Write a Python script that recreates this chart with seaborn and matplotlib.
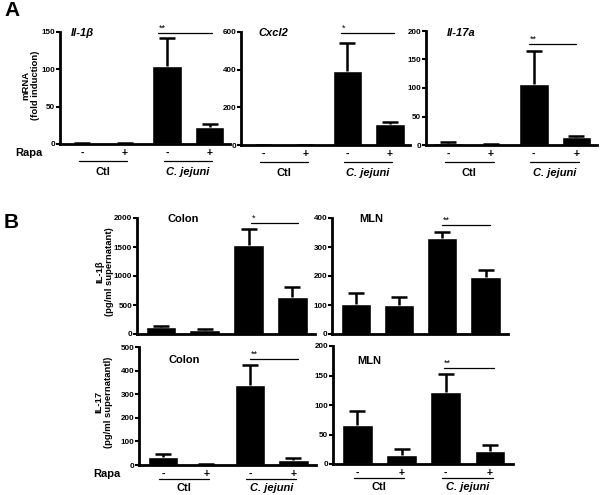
import numpy as np
import pandas as pd
import matplotlib
matplotlib.use("Agg")
import matplotlib.pyplot as plt
import seaborn as sns
from matplotlib.transforms import blended_transform_factory

sns.set_theme(style="ticks")
plt.rcParams['font.family'] = ['Liberation Sans', 'DejaVu Sans']
plt.rcParams['font.weight'] = 'bold'
plt.rcParams['text.color'] = 'black'
plt.rcParams['axes.labelcolor'] = 'black'
plt.rcParams['xtick.color'] = 'black'
plt.rcParams['ytick.color'] = 'black'
plt.rcParams['axes.edgecolor'] = 'black'

# ---------------- data ----------------
conditions = ["Ctl -", "Ctl +", "C. jejuni -", "C. jejuni +"]
rapa_labels = ["-", "+", "-", "+"]
group_labels = ["Ctl", "C. jejuni"]

il1b_mrna = [1.5, 1.0, 105, 23]
il1b_mrna_err = [0.5, 0.3, 37, 4]
cxcl2_mrna = [1.5, 1.0, 392, 111]
cxcl2_mrna_err = [0.5, 0.5, 150, 10]
il17a_mrna = [4, 2, 107, 14]
il17a_mrna_err = [1, 0.5, 58, 2]

colon_il1b = [127, 70, 1530, 640]
colon_il1b_err = [15, 12, 280, 175]
mln_il1b = [104, 101, 330, 196]
mln_il1b_err = [38, 28, 23, 23]
colon_il17 = [32, 3, 340, 22]
colon_il17_err = [13, 1, 83, 6]
mln_il17 = [66, 16, 122, 22]
mln_il17_err = [24, 10, 30, 10]

W, H = 600, 495
fig = plt.figure(figsize=(W / 100, H / 100), dpi=100)


def fx(x):
    return x / W


def fy(y):
    return 1 - y / H


def panel(box, vals, errs, ymax, step, xlim, title, title_xy, sig, sig_y,
          sig_x, bottom_row, rapa=False, italic_title=False):
    l, r, t, b = box
    ax = fig.add_axes([fx(l), fy(b), (r - l) / W, (b - t) / H])
    df = pd.DataFrame({"cond": conditions, "val": vals})
    sns.barplot(data=df, x="cond", y="val", order=conditions, color="black",
                saturation=1, width=0.7, errorbar=None, ax=ax)
    eb = ax.errorbar(range(4), vals, yerr=[np.zeros(4), errs], fmt="none",
                     ecolor="black", elinewidth=1.8, capsize=6, capthick=1.8)
    caps = eb[1]
    if len(caps) == 2:
        caps[0].set_visible(False)
    ax.set_xlim(*xlim)
    ax.set_ylim(0, ymax)
    ticks = np.arange(0, ymax + step / 2, step)
    ax.set_yticks(ticks)
    ax.set_yticklabels([f"{int(v)}" for v in ticks], fontsize=5.8,
                       fontweight="bold")
    ax.tick_params(axis="y", length=3, width=1.5, pad=0.5, color="black")
    ax.tick_params(axis="x", length=0, pad=3)
    ax.set_xlabel("")
    ax.set_ylabel("")
    for s in ["top", "right"]:
        ax.spines[s].set_visible(False)
    for s in ["left", "bottom"]:
        ax.spines[s].set_linewidth(2)
        ax.spines[s].set_color("black")
    ax.patch.set_alpha(0)
    hpx = b - t
    if bottom_row:
        ax.set_xticks(range(4))
        ax.set_xticklabels(rapa_labels, fontsize=7.5, fontweight="bold")
        tr = blended_transform_factory(ax.transData, ax.transAxes)
        yl = -(17 if t < 200 else 14) / hpx
        ygl = -(28 if t < 200 else 23) / hpx
        for gi, g in enumerate(group_labels):
            x0 = gi * 2 - 0.08
            x1 = gi * 2 + 1 + 0.06
            ax.plot([x0, x1], [yl, yl], transform=tr, color="black", lw=0.9,
                    clip_on=False)
            ax.text((x0 + x1) / 2, ygl, g, transform=tr, ha="center",
                    va="center", fontsize=8, fontweight="bold",
                    style="italic" if gi == 1 else "normal")
        if rapa:
            fig.text(fx(l - 18), fy(b + 9), "Rapa", ha="right", va="center",
                     fontsize=8, fontweight="bold")
    else:
        ax.set_xticks([])
    fig.text(fx(title_xy[0]), fy(title_xy[1]), title, ha="left", va="center",
             fontsize=8, fontweight="bold",
             style="italic" if italic_title else "normal")
    ax.plot([sig_x[0], sig_x[1]], [sig_y, sig_y], color="black", lw=0.9,
            clip_on=False)
    ax.annotate(sig, xy=(sig_x[0], sig_y), xytext=(0.5, 0.3),
                textcoords="offset points", ha="left", va="bottom",
                fontsize=6.5, fontweight="normal", annotation_clip=False)
    return ax


xa = (-0.52, 3.48)
xb = (-0.55, 3.52)

panel((60, 230, 32, 144), il1b_mrna, il1b_mrna_err, 150, 50, xa,
      "Il-1β", (71, 33), "**", 148, (1.78, 3.05), True, rapa=True,
      italic_title=True)
panel((241, 410, 32, 145), cxcl2_mrna, cxcl2_mrna_err, 600, 200, xa,
      "Cxcl2", (258, 33), "*", 593, (1.85, 3.1), True, italic_title=True)
panel((426, 597, 31, 145), il17a_mrna, il17a_mrna_err, 200, 50, xa,
      "Il-17a", (447, 33), "**", 177, (1.9, 3.0), True, italic_title=True)

panel((137, 315, 218, 334), colon_il1b, colon_il1b_err, 2000, 500, xb,
      "Colon", (167, 219), "*", 1914, (2.05, 3.14), False)
panel((332, 508, 218, 334), mln_il1b, mln_il1b_err, 400, 100, xb,
      "MLN", (359, 219), "**", 376, (2.0, 3.1), False)
panel((139, 316, 347, 465), colon_il17, colon_il17_err, 500, 100, xb,
      "Colon", (168, 360), "**", 449, (2.0, 3.1), True, rapa=True)
panel((333, 513, 346, 464), mln_il17, mln_il17_err, 200, 50, xb,
      "MLN", (357, 361), "**", 163, (1.95, 3.1), True)

# y labels
fig.text(fx(31), fy(85), "mRNA\n(fold induction)", rotation=90, ha="center",
         va="center", fontsize=6.8, fontweight="bold", multialignment="center",
         linespacing=1.1)
fig.text(fx(105), fy(272), "IL-1β\n(pg/ml supernatant)", rotation=90,
         ha="center", va="center", fontsize=6.8, fontweight="bold",
         multialignment="center", linespacing=1.1)
fig.text(fx(104), fy(402), "IL-17\n(pg/ml supernatantl)", rotation=90,
         ha="center", va="center", fontsize=6.8, fontweight="bold",
         multialignment="center", linespacing=1.1)

# panel letters
fig.text(fx(4), fy(11), "A", ha="left", va="center", fontsize=15,
         fontweight="bold")
fig.text(fx(4), fy(223), "B", ha="left", va="center", fontsize=15,
         fontweight="bold")

fig.savefig("out.png", dpi=100, facecolor="white")
